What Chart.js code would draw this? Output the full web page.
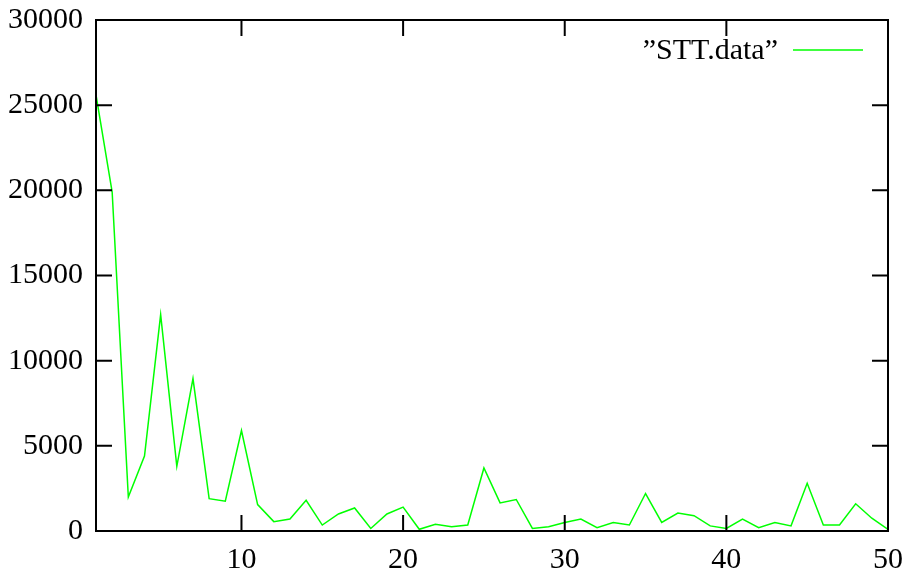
<!DOCTYPE html>
<html>
<head>
<meta charset="utf-8">
<script src="https://cdn.jsdelivr.net/npm/chart.js@4.4.1/dist/chart.umd.min.js"></script>
<style>
  body { margin: 0; background: #fff; }
  canvas { display: block; }
</style>
</head>
<body>
<canvas id="sttChart" width="909" height="577"></canvas>
<script>
// data
const xValues = [1,2,3,4,5,6,7,8,9,10,11,12,13,14,15,16,17,18,19,20,21,22,23,24,25,26,27,28,29,30,31,32,33,34,35,36,37,38,39,40,41,42,43,44,45,46,47,48,49,50];
const sttValues = [25600,19900,2000,4400,12700,3800,8950,1900,1750,5900,
                   1550,550,700,1800,350,1000,1350,150,1000,1400,
                   100,400,250,350,3700,1650,1850,150,250,500,
                   700,200,500,350,2200,500,1050,900,300,150,
                   700,200,500,300,2800,350,350,1600,750,100];
const xTicks = [10, 20, 30, 40, 50];
const yTicks = [0, 5000, 10000, 15000, 20000, 25000, 30000];
const seriesLabel = "\u201DSTT.data\u201D";

const FONT = "Liberation Serif";
const FONT_SIZE = 30;

// drop the label overhang padding so the plot box sits where gnuplot put it
function noOverhang(s) {
    s.paddingTop = 0;
    s.paddingBottom = 0;
    s.paddingLeft = 0;
    s.paddingRight = 0;
}

// gnuplot-like frame: border plus inward ticks on all four sides, and the key
const framePlugin = {
    id: "frame",
    afterDatasetsDraw(chart) {
        const ctx = chart.ctx;
        const a = chart.chartArea;
        const xs = chart.scales.x;
        const ys = chart.scales.y;
        const len = 16;
        ctx.save();
        ctx.strokeStyle = "#000";
        ctx.lineWidth = 2;
        ctx.beginPath();
        xTicks.forEach(v => {
            const px = xs.getPixelForValue(v);
            ctx.moveTo(px, a.bottom); ctx.lineTo(px, a.bottom - len);
            ctx.moveTo(px, a.top); ctx.lineTo(px, a.top + len);
        });
        yTicks.forEach(v => {
            const py = ys.getPixelForValue(v);
            ctx.moveTo(a.left, py); ctx.lineTo(a.left + len, py);
            ctx.moveTo(a.right, py); ctx.lineTo(a.right - len, py);
        });
        ctx.stroke();
        ctx.strokeRect(a.left, a.top, a.right - a.left, a.bottom - a.top);

        // key
        const ds = chart.data.datasets[0];
        const ky = 50;
        ctx.font = FONT_SIZE + "px '" + FONT + "'";
        ctx.fillStyle = "#000";
        ctx.textAlign = "right";
        ctx.textBaseline = "middle";
        ctx.fillText(ds.label, 778, ky + 1);
        ctx.strokeStyle = ds.borderColor;
        ctx.lineWidth = ds.borderWidth;
        ctx.beginPath();
        ctx.moveTo(793, ky); ctx.lineTo(863, ky);
        ctx.stroke();
        ctx.restore();
    }
};

new Chart(document.getElementById("sttChart"), {
    type: "line",
    data: {
        datasets: [{
            label: seriesLabel,
            data: xValues.map((x, i) => ({ x: x, y: sttValues[i] })),
            borderColor: "#00ff00",
            borderWidth: 1.5,
            pointRadius: 0,
            tension: 0,
            fill: false
        }]
    },
    options: {
        responsive: false,
        animation: false,
        layout: { padding: { top: 20, right: 21, left: 0, bottom: 0 } },
        plugins: { legend: { display: false }, tooltip: { enabled: false } },
        scales: {
            x: {
                type: "linear",
                min: 1,
                max: 50,
                grid: { display: false, drawTicks: false },
                border: { display: false },
                afterBuildTicks: s => { s.ticks = xTicks.map(v => ({ value: v })); },
                afterFit: s => { s.height = 46; noOverhang(s); },
                ticks: {
                    color: "#000",
                    padding: 11,
                    maxRotation: 0,
                    font: { family: FONT, size: FONT_SIZE }
                }
            },
            y: {
                min: 0,
                max: 30000,
                grid: { display: false, drawTicks: false },
                border: { display: false },
                afterBuildTicks: s => { s.ticks = yTicks.map(v => ({ value: v })); },
                afterFit: s => { s.width = 96; noOverhang(s); },
                ticks: {
                    color: "#000",
                    padding: 13,
                    font: { family: FONT, size: FONT_SIZE },
                    callback: v => String(v)
                }
            }
        }
    },
    plugins: [framePlugin]
});
</script>
</body>
</html>
